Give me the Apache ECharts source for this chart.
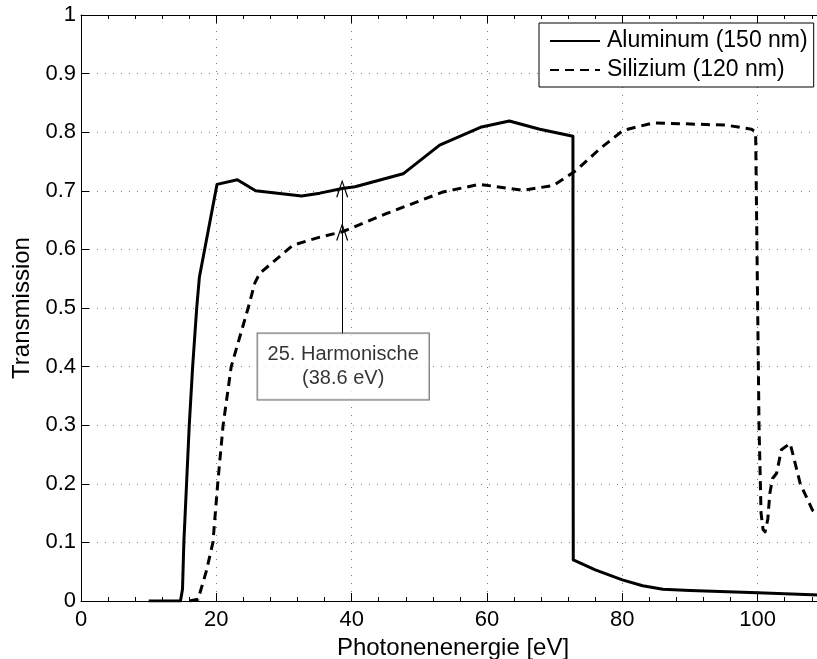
<!DOCTYPE html>
<html><head><meta charset="utf-8">
<script src="https://cdn.jsdelivr.net/npm/echarts@6/dist/echarts.min.js"></script>
<style>html,body{margin:0;padding:0;overflow:hidden;background:#fff;width:817px;height:659px}#c{width:894px;height:659px}</style>
</head><body><div id="c"></div><script>
// Aluminum (150 nm) transmission
const alX = [10, 14.7, 15.0, 15.2, 15.6, 16.0, 16.5, 17.1, 17.5, 20.1, 23.1, 25.8, 32.6, 35.3, 38.6, 40.5, 47.6, 53.0, 59.2, 63.3, 67.8, 72.7, 72.75, 76, 80, 83, 86, 90, 100, 110];
const alY = [0, 0, 0.02, 0.1, 0.2, 0.3, 0.4, 0.5, 0.553, 0.711, 0.719, 0.700, 0.691, 0.696, 0.704, 0.707, 0.729, 0.778, 0.809, 0.819, 0.805, 0.793, 0.070, 0.053, 0.036, 0.026, 0.020, 0.018, 0.014, 0.010];
// Silizium (120 nm) transmission
const siX = [16, 17.3, 18.5, 19.5, 20.2, 21.0, 22.2, 24.7, 25.7, 26.4, 31.3, 35.3, 38.6, 45.1, 53.5, 58.9, 65.3, 69.8, 73.2, 76.7, 80.1, 84.6, 95.4, 99.1, 99.7, 100.2, 100.5, 100.8, 101.1, 101.5, 101.8, 102.2, 102.8, 103.5, 104.8, 106.3, 108.1, 110];
const siY = [0, 0.003, 0.05, 0.1, 0.2, 0.3, 0.4, 0.5, 0.543, 0.559, 0.607, 0.621, 0.630, 0.661, 0.698, 0.711, 0.701, 0.709, 0.735, 0.772, 0.803, 0.816, 0.812, 0.805, 0.800, 0.30, 0.15, 0.122, 0.118, 0.14, 0.184, 0.209, 0.218, 0.258, 0.269, 0.20, 0.155, 0.135];
// annotation
const harmonicX = 38.6;
const harmonicAl = 0.704;
const harmonicSi = 0.630;
const boxTop = 0.455;
const boxCenter = [38.75, 0.40];
const annText = '25. Harmonische\n(38.6 eV)';
const seriesNames = ['Aluminum (150 nm)', 'Silizium (120 nm)'];
const xTicks = {min: 0, max: 120, interval: 20};
const yTicks = {min: 0, max: 1, interval: 0.1};

const FONT = '"Liberation Sans", Arial, Helvetica, sans-serif';
const zip = (xs, ys) => xs.map((x, i) => [x, ys[i]]);
const arrowHead = 'path://M0,0 L5,14 L4,14.4 L0,2.6 L-4,14.4 L-5,14 Z';
const gridLine = {show: true, lineStyle: {color: '#7a7a7a', width: 1, type: [1, 7]}};

const chart = echarts.init(document.getElementById('c'));
chart.setOption({
  animation: false,
  backgroundColor: '#fff',
  textStyle: {fontFamily: FONT, color: '#000'},
  grid: {left: 81, right: 1, top: 15, bottom: 58, containLabel: false, outerBoundsMode: 'none'},
  legend: {
    data: seriesNames,
    orient: 'vertical',
    left: 539, top: 23,
    itemWidth: 50, itemHeight: 14, itemGap: 5,
    padding: [6, 6, 5, 10],
    borderColor: '#000', borderWidth: 1,
    backgroundColor: '#fff',
    itemStyle: {opacity: 0, borderWidth: 0},
    textStyle: {fontFamily: FONT, fontSize: 23, color: '#000', lineHeight: 24, padding: [0, 0, 0, 2]}
  },
  xAxis: [{
    type: 'value', position: 'bottom', min: xTicks.min, max: xTicks.max, interval: xTicks.interval,
    axisLine: {lineStyle: {color: '#000', width: 1}},
    axisTick: {inside: true, length: 8, lineStyle: {color: '#000'}},
    minorTick: {show: true, splitNumber: 5, length: 4, lineStyle: {color: '#000'}},
    axisLabel: {fontSize: 22, color: '#000', margin: 8, fontFamily: FONT},
    splitLine: gridLine,
    name: 'Photonenenergie [eV]', nameLocation: 'middle', nameGap: 23,
    nameTextStyle: {fontSize: 24, color: '#000', fontFamily: FONT, padding: [0, 68, 0, 0]}
  }, {
    type: 'value', position: 'top', min: xTicks.min, max: xTicks.max, interval: xTicks.interval,
    axisLine: {show: true, lineStyle: {color: '#000', width: 1}},
    axisTick: {show: true, inside: true, length: 8, lineStyle: {color: '#000'}},
    minorTick: {show: true, splitNumber: 5, length: 4, lineStyle: {color: '#000'}},
    axisLabel: {show: false}, splitLine: {show: false}
  }],
  yAxis: [{
    type: 'value', min: yTicks.min, max: yTicks.max, interval: yTicks.interval,
    axisLine: {show: true, lineStyle: {color: '#000', width: 1}},
    axisTick: {show: true, inside: true, length: 8, lineStyle: {color: '#000'}},
    axisLabel: {fontSize: 22, color: '#000', margin: 5, fontFamily: FONT},
    splitLine: gridLine,
    name: 'Transmission', nameLocation: 'middle', nameGap: 46,
    nameTextStyle: {fontSize: 24, color: '#000', fontFamily: FONT}
  }],
  series: [{
    name: seriesNames[0], type: 'line', data: zip(alX, alY),
    symbol: 'none', showSymbol: false, z: 5,
    lineStyle: {color: '#000', width: 3, cap: 'butt', join: 'round'},
    itemStyle: {color: '#000'}
  }, {
    name: seriesNames[1], type: 'line', data: zip(siX, siY),
    symbol: 'none', showSymbol: false, z: 5,
    lineStyle: {color: '#000', width: 3, type: [9, 6], cap: 'butt', join: 'round'},
    itemStyle: {color: '#000'}
  }, {
    name: 'annotation', type: 'scatter', data: [boxCenter], symbolSize: 0, z: 6,
    itemStyle: {color: '#000'},
    emphasis: {disabled: true},
    label: {
      show: true, position: 'inside', formatter: annText,
      fontSize: 20, lineHeight: 24, color: '#000', fontFamily: FONT, align: 'center',
      textBorderWidth: 0, textBorderColor: 'transparent',
      backgroundColor: '#fff', borderColor: '#444', borderWidth: 1, padding: [9, 10, 9, 10]
    },
    markLine: {
      silent: true, animation: false,
      symbol: ['none', arrowHead], symbolSize: [12, 18], symbolOffset: [0, 0],
      lineStyle: {color: '#000', width: 1, type: 'solid'},
      label: {show: false},
      data: [
        [{coord: [harmonicX, boxTop]}, {coord: [harmonicX, harmonicAl]}],
        [{coord: [harmonicX, boxTop]}, {coord: [harmonicX, harmonicSi]}]
      ]
    }
  }]
});
</script></body></html>
